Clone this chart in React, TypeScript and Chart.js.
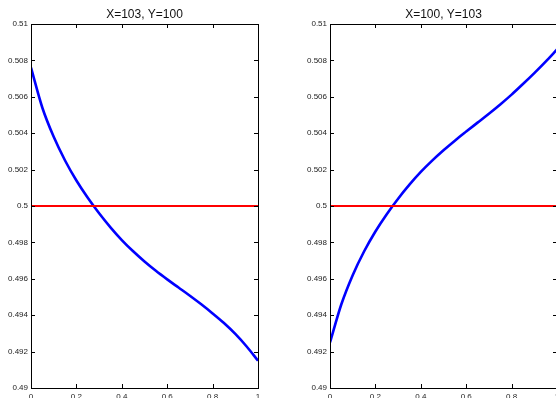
import React, { useEffect, useRef } from "react";
import { Chart, registerables } from "chart.js";

Chart.register(...registerables);

const xValues = [0, 0.05, 0.1, 0.15, 0.2, 0.25, 0.3, 0.35, 0.4, 0.45, 0.5, 0.55, 0.6, 0.65, 0.7, 0.75, 0.8, 0.85, 0.9, 0.95, 1];
const leftBlue = [0.5076, 0.5054, 0.5038, 0.5025, 0.5014, 0.50045, 0.4996, 0.49883, 0.49813, 0.49751, 0.49695, 0.49644, 0.49597, 0.49552, 0.49507, 0.4946, 0.4941, 0.49357, 0.49297, 0.49228, 0.4915];
const rightBlue = [0.4925, 0.4946, 0.4962, 0.4975, 0.4986, 0.49955, 0.5004, 0.50117, 0.50187, 0.50249, 0.50306, 0.50359, 0.50409, 0.50458, 0.50507, 0.50558, 0.50612, 0.5067, 0.5073, 0.50793, 0.5086];
const redX = [0, 1];
const redY = [0.5, 0.5];
const xTicks = [0, 0.2, 0.4, 0.6, 0.8, 1];
const yTicks = [0.49, 0.492, 0.494, 0.496, 0.498, 0.5, 0.502, 0.504, 0.506, 0.508, 0.51];
const leftTitle = "X=103, Y=100";
const rightTitle = "X=100, Y=103";

const FONT = '"Liberation Sans", Arial, Helvetica, sans-serif';

const fmt = (v: number) => String(Number(Number(v).toFixed(4)));

function makeChart(canvas: HTMLCanvasElement, title: string, blue: number[], yAxisWidth: number, rightPad: number) {
  const boxPlugin = {
    id: "matlabBox",
    afterDraw(chart: any) {
      const { ctx, chartArea } = chart;
      const { left, right, top, bottom } = chartArea;
      const xs = chart.scales.x;
      const ys = chart.scales.y;
      const tl = 4;
      ctx.save();
      ctx.strokeStyle = "#000";
      ctx.lineWidth = 1;
      ctx.beginPath();
      xTicks.forEach((t) => {
        const px = Math.round(xs.getPixelForValue(t)) + 0.5;
        ctx.moveTo(px, bottom);
        ctx.lineTo(px, bottom - tl);
        ctx.moveTo(px, top);
        ctx.lineTo(px, top + tl);
      });
      yTicks.forEach((t) => {
        const py = Math.round(ys.getPixelForValue(t)) + 0.5;
        ctx.moveTo(left, py);
        ctx.lineTo(left + tl, py);
        ctx.moveTo(right, py);
        ctx.lineTo(right - tl, py);
      });
      ctx.stroke();
      ctx.strokeRect(Math.round(left) + 0.5, Math.round(top) + 0.5, Math.round(right - left), Math.round(bottom - top));
      ctx.fillStyle = "#111";
      ctx.font = `12px ${FONT}`;
      ctx.textAlign = "center";
      ctx.textBaseline = "alphabetic";
      ctx.fillText(title, (left + right) / 2, 18);
      ctx.restore();
    },
  };

  return new Chart(canvas, {
    type: "line",
    data: {
      datasets: [
        {
          data: redX.map((x, i) => ({ x, y: redY[i] })),
          borderColor: "#ff0000",
          borderWidth: 2,
          pointRadius: 0,
          order: 0,
        },
        {
          data: xValues.map((x, i) => ({ x, y: blue[i] })),
          borderColor: "#0000ff",
          borderWidth: 2.6,
          pointRadius: 0,
          cubicInterpolationMode: "monotone",
          order: 1,
        },
      ],
    },
    options: {
      animation: false,
      responsive: false,
      devicePixelRatio: 1,
      layout: { padding: { top: 24, right: rightPad, left: 0, bottom: 0 } },
      plugins: { legend: { display: false }, title: { display: false }, tooltip: { enabled: false } },
      scales: {
        x: {
          type: "linear",
          min: 0,
          max: 1,
          grid: { display: false, drawTicks: false },
          border: { display: false },
          afterBuildTicks: (scale: any) => {
            scale.ticks = xTicks.map((v) => ({ value: v }));
          },
          afterFit: (scale: any) => {
            scale.height = 10;
          },
          ticks: {
            autoSkip: false,
            maxRotation: 0,
            padding: 4,
            color: "#222",
            font: { family: FONT, size: 8 },
            callback: (v: any) => fmt(v),
          },
        },
        y: {
          type: "linear",
          min: 0.49,
          max: 0.51,
          grid: { display: false, drawTicks: false },
          border: { display: false },
          afterBuildTicks: (scale: any) => {
            scale.ticks = yTicks.map((v) => ({ value: v }));
          },
          afterFit: (scale: any) => {
            scale.width = yAxisWidth;
          },
          ticks: {
            autoSkip: false,
            padding: 3,
            color: "#222",
            font: { family: FONT, size: 8 },
            callback: (v: any) => fmt(v),
          },
        },
      },
    },
    plugins: [boxPlugin],
  } as any);
}

export default function App() {
  const leftRef = useRef<HTMLCanvasElement>(null);
  const rightRef = useRef<HTMLCanvasElement>(null);

  useEffect(() => {
    const c1 = makeChart(leftRef.current!, leftTitle, leftBlue, 31, 22);
    const c2 = makeChart(rightRef.current!, rightTitle, rightBlue, 50, 23);
    return () => {
      c1.destroy();
      c2.destroy();
    };
  }, []);

  return (
    <div style={{ position: "fixed", left: 0, top: 0, width: 556, height: 398, overflow: "hidden", background: "#fff" }}>
      <canvas ref={leftRef} width={280} height={398} style={{ position: "absolute", left: 0, top: 0, width: 280, height: 398 }} />
      <canvas ref={rightRef} width={300} height={398} style={{ position: "absolute", left: 280, top: 0, width: 300, height: 398 }} />
    </div>
  );
}
